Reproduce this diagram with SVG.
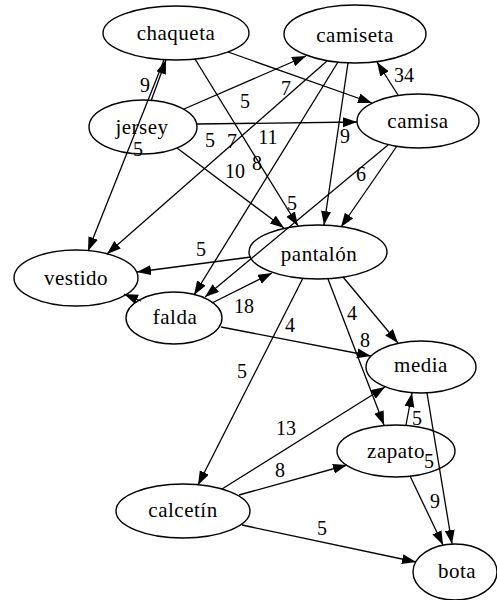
<svg xmlns="http://www.w3.org/2000/svg" width="497" height="600" viewBox="0 0 497 600">
<style>
.node ellipse{fill:none;stroke:#000;stroke-width:1.4}
.node text{font-family:"Liberation Serif","Times New Roman",serif;font-size:21px;letter-spacing:0.5px;text-anchor:middle;fill:#000}
.edges path{fill:none;stroke:#000;stroke-width:1.3;marker-end:url(#arr)}
.edges text{font-family:"Liberation Serif","Times New Roman",serif;font-size:20px;text-anchor:middle;fill:#000}
</style>
<defs>
<marker id="arr" markerUnits="userSpaceOnUse" markerWidth="15" markerHeight="11" refX="14" refY="5" orient="auto">
<path d="M0,0 L14,5 L0,10 z" fill="#000"/>
</marker>
</defs>
<rect width="497" height="600" fill="#fff"/>
<g id="chaqueta" class="node"><ellipse cx="176" cy="33" rx="73" ry="27"/><text x="176" y="40">chaqueta</text></g>
<g id="camiseta" class="node"><ellipse cx="355" cy="34" rx="71" ry="29"/><text x="355" y="42">camiseta</text></g>
<g id="camisa" class="node"><ellipse cx="418" cy="121" rx="61" ry="27"/><text x="418" y="128">camisa</text></g>
<g id="jersey" class="node"><ellipse cx="143" cy="127" rx="54" ry="27"/><text x="142" y="134">jersey</text></g>
<g id="vestido" class="node"><ellipse cx="76" cy="278" rx="62" ry="28"/><text x="76" y="285">vestido</text></g>
<g id="falda" class="node"><ellipse cx="174" cy="318" rx="48" ry="26"/><text x="175" y="324">falda</text></g>
<g id="pantalon" class="node"><ellipse cx="318" cy="252" rx="69" ry="27"/><text x="319" y="261">pantalón</text></g>
<g id="media" class="node"><ellipse cx="421" cy="367" rx="55" ry="26"/><text x="421" y="372">media</text></g>
<g id="zapato" class="node"><ellipse cx="396" cy="451" rx="59" ry="26"/><text x="396" y="458">zapato</text></g>
<g id="calcetin" class="node"><ellipse cx="183" cy="511" rx="67" ry="27"/><text x="183" y="517">calcetín</text></g>
<g id="bota" class="node"><ellipse cx="455" cy="572" rx="42" ry="28"/><text x="457" y="578">bota</text></g>
<g id="edges" class="edges">
<path d="M151,101 L166,60"/>
<path d="M164,60 L88,251"/>
<path d="M184,109 L306,56"/>
<path d="M197,124 L357,122"/>
<path d="M177,148 L284,228"/>
<path d="M228,52 L372,103"/>
<path d="M195,59 L298,226"/>
<path d="M327,61 L107,254"/>
<path d="M338,62 L194,295"/>
<path d="M348,63 L324,225"/>
<path d="M398,95 L377,62"/>
<path d="M397,146 L341,227"/>
<path d="M388,145 L205,297"/>
<path d="M251,257 L137,272"/>
<path d="M141,301 L124,294"/>
<path d="M212,303 L272,273"/>
<path d="M221,327 L371,356"/>
<path d="M343,277 L398,343"/>
<path d="M328,279 L384,425"/>
<path d="M303,278 L198,485"/>
<path d="M222,489 L385,387"/>
<path d="M239,495 L347,465"/>
<path d="M242,525 L416,562"/>
<path d="M406,425 L412,393"/>
<path d="M410,476 L443,545"/>
<path d="M427,393 L452,544"/>
<text x="145" y="92">9</text>
<text x="138" y="156">5</text>
<text x="245" y="108">5</text>
<text x="286" y="95">7</text>
<text x="210" y="147">5</text>
<text x="232" y="148">7</text>
<text x="268" y="144">11</text>
<text x="257" y="170">8</text>
<text x="235" y="178">10</text>
<text x="345" y="143">9</text>
<text x="404" y="82">34</text>
<text x="361" y="181">6</text>
<text x="292" y="210">5</text>
<text x="201" y="256">5</text>
<text x="244" y="313">18</text>
<text x="290" y="332">4</text>
<text x="352" y="320">4</text>
<text x="365" y="347">8</text>
<text x="242" y="378">5</text>
<text x="286" y="435">13</text>
<text x="280" y="477">8</text>
<text x="322" y="535">5</text>
<text x="417" y="425">5</text>
<text x="429" y="468">5</text>
<text x="435" y="508">9</text>
</g>
</svg>
